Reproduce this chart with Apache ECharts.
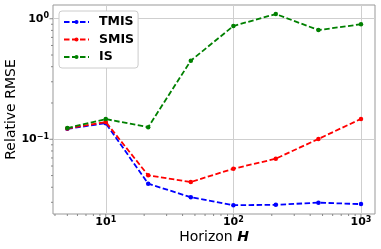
<!DOCTYPE html>
<html><head><meta charset="utf-8">
<script src="https://cdn.jsdelivr.net/npm/echarts@6/dist/echarts.min.js"></script>
<style>html,body{margin:0;padding:0;background:#fff}#c{width:381px;height:249px}</style>
</head><body><div id="c"></div>
<script>
// ---- data ----
const horizons = [5, 10, 21.5, 46.4, 100, 215, 464, 1000];
const tmis = [0.122, 0.136, 0.0428, 0.0331, 0.0284, 0.0286, 0.0298, 0.0290];
const smis = [0.123, 0.139, 0.0502, 0.0442, 0.0570, 0.0690, 0.1007, 0.1476];
const isVals = [0.124, 0.147, 0.126, 0.449, 0.870, 1.094, 0.805, 0.900];
const seriesNames = ['TMIS', 'SMIS', 'IS'];
const seriesColors = ['#0000ff', '#ff0000', '#008000'];
const xMajorTicks = [10, 100, 1000];
const yMajorTicks = [0.1, 1];
const xRange = [3.86, 1288];
const yRange = [0.024, 1.30];
const xTitle = 'Horizon';
const xTitleVar = 'H';
const yTitle = 'Relative RMSE';

const FONT = 'DejaVu Sans';
const chart = echarts.init(document.getElementById('c'), null, {renderer: 'canvas'});

function powLabel(v) {
  const l = Math.log10(v);
  const e = Math.round(l);
  if (Math.abs(l - e) > 1e-6) return '';
  return '{b|10}{s|' + (e < 0 ? '\u2212' + (-e) : e) + '}';
}
const richSup = {
  b: {fontFamily: FONT, fontWeight: 'bold', fontSize: 11, color: '#000', lineHeight: 13},
  s: {fontFamily: FONT, fontWeight: 'bold', fontSize: 8, color: '#000', lineHeight: 8, verticalAlign: 'top'}
};

const allSeries = [tmis, smis, isVals].map((vals, i) => ({
  name: seriesNames[i],
  type: 'line',
  data: horizons.map((h, j) => [h, vals[j]]),
  symbol: 'circle',
  symbolSize: 4.5,
  showSymbol: true,
  color: seriesColors[i],
  lineStyle: {width: 1.8, type: [5.5, 2.5], color: seriesColors[i]},
  itemStyle: {color: seriesColors[i]},
  animation: false,
  z: 2 + i
}));

chart.setOption({
  animation: false,
  backgroundColor: '#fff',
  grid: {left: 53, right: 6, top: 5, bottom: 35, show: true, borderColor: '#999', borderWidth: 1, backgroundColor: 'transparent', containLabel: false, outerBoundsMode: 'none'},
  legend: {
    orient: 'vertical', left: 59, top: 11,
    padding: [4, 4, 4, 4],
    itemWidth: 25, itemHeight: 5, itemGap: 3.5,
    backgroundColor: '#fff', borderColor: '#ccc', borderWidth: 1, borderRadius: 3,
    textStyle: {fontFamily: FONT, fontWeight: 'bold', fontSize: 12.5, color: '#000', lineHeight: 14, padding: [0, 0, 0, 5]},
    data: seriesNames
  },
  xAxis: {
    type: 'log', logBase: 10, min: xRange[0], max: xRange[1],
    name: '{n|' + xTitle + ' }{h|' + xTitleVar + '}',
    nameLocation: 'middle', nameGap: 16, nameMoveOverlap: false,
    nameTextStyle: {rich: {
      n: {fontFamily: FONT, fontSize: 14, color: '#000'},
      h: {fontFamily: FONT, fontSize: 14, fontWeight: 'bold', fontStyle: 'italic', color: '#000'}
    }},
    axisLine: {show: false},
    axisTick: {show: false},
    splitLine: {show: true, showMinLine: false, showMaxLine: false, lineStyle: {color: '#cfcfcf', width: 1}},
    axisLabel: {formatter: powLabel, margin: 2, rich: richSup, showMinLabel: true, showMaxLabel: true}
  },
  yAxis: {
    type: 'log', logBase: 10, min: yRange[0], max: yRange[1],
    name: yTitle, nameLocation: 'middle', nameGap: 35, nameMoveOverlap: false,
    nameTextStyle: {fontFamily: FONT, fontSize: 14, color: '#000'},
    axisLine: {show: false},
    axisTick: {show: false},
    splitLine: {show: true, showMinLine: false, showMaxLine: false, lineStyle: {color: '#cfcfcf', width: 1}},
    axisLabel: {formatter: powLabel, margin: 4, rich: richSup}
  },
  series: allSeries
});

// tick marks (major + minor), outward, matplotlib style
function buildTicks() {
  const els = [];
  const tickColor = '#888';
  const decadesX = [1, 10, 100, 1000];
  decadesX.forEach(d => {
    for (let k = 1; k <= 9; k++) {
      const v = d * k;
      if (v < xRange[0] || v > xRange[1]) continue;
      const p = chart.convertToPixel({gridIndex: 0}, [v, yRange[0]]);
      const len = k === 1 ? 3.5 : 2;
      els.push({type: 'line', shape: {x1: p[0], y1: p[1], x2: p[0], y2: p[1] + len}, style: {stroke: tickColor, lineWidth: 1}, z: 10});
    }
  });
  const decadesY = [0.01, 0.1, 1];
  decadesY.forEach(d => {
    for (let k = 1; k <= 9; k++) {
      const v = d * k;
      if (v < yRange[0] || v > yRange[1]) continue;
      const p = chart.convertToPixel({gridIndex: 0}, [xRange[0], v]);
      const len = k === 1 ? 3.5 : 2;
      els.push({type: 'line', shape: {x1: p[0], y1: p[1], x2: p[0] - len, y2: p[1]}, style: {stroke: tickColor, lineWidth: 1}, z: 10});
    }
  });
  chart.setOption({graphic: {elements: els}});
}
buildTicks();
</script>
</body></html>
